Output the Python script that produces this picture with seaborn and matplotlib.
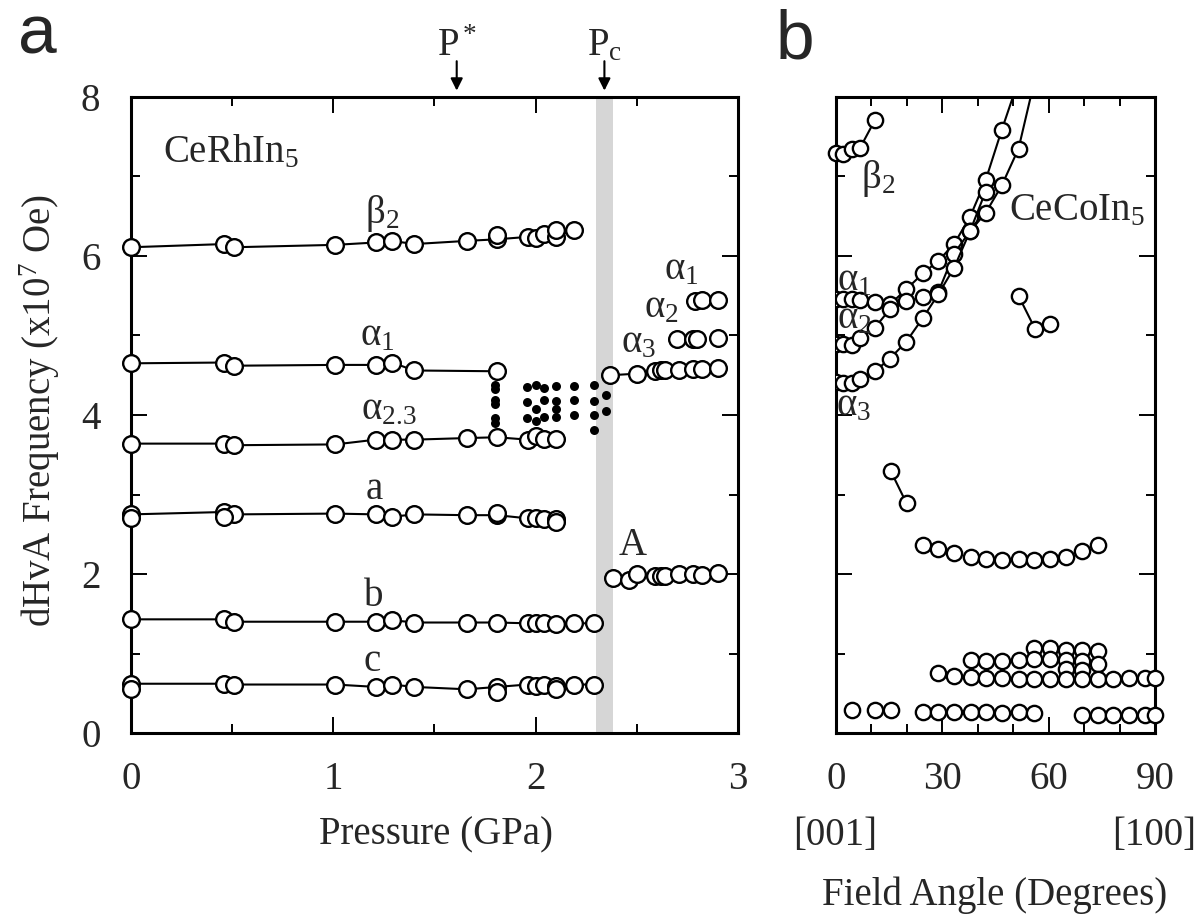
import numpy as np
import pandas as pd
import seaborn as sns
import matplotlib.pyplot as plt
from matplotlib.ticker import MultipleLocator, NullFormatter

# ---- panel a : CeRhIn5, frequency vs pressure ----
p_beta2 = [0, 0.46, 0.51, 1.01, 1.21, 1.29, 1.40, 1.66, 1.81, 1.96, 2.00, 2.04, 2.10, 2.19]
f_beta2 = [6.11, 6.15, 6.11, 6.14, 6.17, 6.19, 6.15, 6.19, 6.21, 6.24, 6.23, 6.28, 6.24, 6.33]
p_beta2_x = [1.81, 2.10]
f_beta2_x = [6.27, 6.33]

p_alpha1 = [0, 0.46, 0.51, 1.01, 1.21, 1.29, 1.40, 1.81]
f_alpha1 = [4.65, 4.66, 4.62, 4.63, 4.63, 4.66, 4.56, 4.55]

p_alpha23 = [0, 0.46, 0.51, 1.01, 1.21, 1.29, 1.40, 1.66, 1.81, 1.96, 2.00, 2.04, 2.10]
f_alpha23 = [3.64, 3.64, 3.62, 3.63, 3.69, 3.69, 3.69, 3.71, 3.72, 3.69, 3.73, 3.70, 3.70]

p_a = [0, 0.46, 0.51, 1.01, 1.21, 1.29, 1.40, 1.66, 1.81, 1.96, 2.00, 2.04, 2.10]
f_a = [2.75, 2.78, 2.75, 2.76, 2.75, 2.72, 2.75, 2.74, 2.74, 2.70, 2.71, 2.69, 2.69]
p_a_x = [0, 0.46, 1.81, 2.10]
f_a_x = [2.70, 2.72, 2.77, 2.66]

p_bc = [0, 0.46, 0.51, 1.01, 1.21, 1.29, 1.40, 1.66, 1.81, 1.96, 2.00, 2.04, 2.10, 2.19, 2.29]
f_b = [1.43, 1.43, 1.40, 1.40, 1.40, 1.42, 1.39, 1.39, 1.39, 1.38, 1.38, 1.38, 1.37, 1.38, 1.38]
f_c = [0.62, 0.62, 0.61, 0.61, 0.58, 0.61, 0.58, 0.55, 0.58, 0.61, 0.59, 0.60, 0.59, 0.61, 0.61]
p_c_x = [0, 1.81, 2.10]
f_c_x = [0.56, 0.52, 0.55]

# high pressure side
p_hi_a3 = [2.37, 2.50, 2.59, 2.62, 2.64, 2.71, 2.78, 2.82, 2.90]
f_hi_a3 = [4.50, 4.52, 4.55, 4.56, 4.56, 4.57, 4.58, 4.58, 4.59]
p_hi_a2 = [2.70, 2.78, 2.80, 2.90]
f_hi_a2 = [4.96, 4.96, 4.96, 4.97]
p_hi_a1 = [2.79, 2.82, 2.90]
f_hi_a1 = [5.44, 5.45, 5.45]
p_hi_A = [2.38, 2.46, 2.50, 2.59, 2.62, 2.64, 2.71, 2.78, 2.82, 2.90]
f_hi_A = [1.95, 1.93, 2.00, 1.97, 1.98, 1.98, 2.00, 2.00, 1.99, 2.01]

# small filled dots near the transition
p_dots = [1.80, 1.80, 1.80, 1.80, 1.80, 1.80, 1.955, 1.955, 1.955, 2.00, 2.00, 2.00,
          2.04, 2.04, 2.04, 2.10, 2.10, 2.10, 2.10, 2.19, 2.19, 2.19,
          2.29, 2.29, 2.29, 2.29, 2.35, 2.35]
f_dots = [4.38, 4.33, 4.19, 4.14, 3.96, 3.90, 4.35, 4.16, 3.96, 4.38, 4.08, 3.93,
          4.34, 4.19, 3.98, 4.36, 4.18, 4.08, 3.98, 4.36, 4.19, 4.00,
          4.38, 4.18, 4.00, 3.81, 4.25, 4.05]

# ---- panel b : CeCoIn5, frequency vs field angle ----
ang_beta2 = [0, 2.1, 4.4, 6.8, 11.0]
fb_beta2 = [7.30, 7.28, 7.35, 7.36, 7.71]
ang_a1 = [0, 2.1, 4.4, 6.8, 11.0, 15.2, 19.8, 24.5, 28.9, 33.3, 37.8, 42.2, 46.8, 52.2]
fb_a1 = [5.46, 5.46, 5.46, 5.45, 5.42, 5.39, 5.58, 5.78, 5.94, 6.15, 6.49, 6.95, 7.59, 8.30]
ang_a2 = [0, 2.1, 4.4, 6.8, 11.0, 15.2, 19.8, 24.5, 28.9, 33.3, 37.8, 42.2]
fb_a2 = [4.89, 4.89, 4.88, 4.97, 5.10, 5.33, 5.43, 5.48, 5.55, 6.03, 6.31, 6.81]
ang_a3 = [0, 2.1, 4.4, 6.8, 11.0, 15.2, 19.8, 24.5, 28.9, 33.3, 37.8, 42.2, 46.8, 51.5, 56.5]
fb_a3 = [4.41, 4.40, 4.40, 4.45, 4.55, 4.71, 4.92, 5.22, 5.52, 5.85, 6.31, 6.54, 6.89, 7.35, 8.30]
ang_seg1 = [51.5, 56.2, 60.4]
fb_seg1 = [5.50, 5.08, 5.15]
ang_seg2 = [15.4, 19.9]
fb_seg2 = [3.30, 2.89]
ang_r22 = [24.5, 28.9, 33.3, 38.0, 42.2, 46.8, 51.5, 56.0, 60.4, 64.8, 69.3, 73.8]
fb_r22 = [2.36, 2.32, 2.26, 2.21, 2.19, 2.17, 2.19, 2.17, 2.19, 2.22, 2.29, 2.36]
ang_r105 = [56.0, 60.4, 64.8, 69.3, 73.8]
fb_r105 = [1.07, 1.07, 1.05, 1.04, 1.03]
ang_r09 = [38.0, 42.2, 46.8, 51.5, 56.0, 60.4, 64.8, 69.3, 73.8]
fb_r09 = [0.92, 0.90, 0.91, 0.92, 0.93, 0.93, 0.92, 0.90, 0.87]
ang_r08 = [64.8, 69.3]
fb_r08 = [0.81, 0.79]
ang_r07 = [28.9, 33.3, 38.0, 42.2, 46.8, 51.5, 56.0, 60.4, 64.8, 69.3, 73.8, 78.1, 82.6, 87.1, 89.9]
fb_r07 = [0.75, 0.72, 0.70, 0.69, 0.69, 0.68, 0.68, 0.68, 0.68, 0.68, 0.68, 0.68, 0.69, 0.69, 0.69]
ang_r03 = [4.4, 11.0, 15.4, 24.5, 28.9, 33.3, 38.0, 42.2, 46.8, 51.5, 56.0,
           69.3, 73.8, 78.1, 82.6, 87.1, 89.9]
fb_r03 = [0.29, 0.29, 0.29, 0.26, 0.26, 0.26, 0.26, 0.26, 0.25, 0.26, 0.25,
          0.23, 0.23, 0.23, 0.23, 0.23, 0.23]

sns.set_theme(style="ticks")
plt.rcParams['font.family'] = ['Liberation Serif', 'DejaVu Serif']
plt.rcParams['mathtext.fontset'] = 'custom'
plt.rcParams['mathtext.rm'] = 'Liberation Serif'
plt.rcParams['mathtext.it'] = 'Liberation Serif:italic'
plt.rcParams['mathtext.bf'] = 'Liberation Serif:bold'

FS = 28


def joined(ax, x, y, ms=12, clip=False):
    sns.lineplot(x=x, y=y, ax=ax, sort=False, estimator=None, color='black',
                 linewidth=1.5, marker='o', markersize=ms, markerfacecolor='white',
                 markeredgecolor='black', markeredgewidth=1.7, clip_on=clip, zorder=3)


def loose(ax, x, y, ms=12):
    sns.scatterplot(x=x, y=y, ax=ax, s=ms ** 2, color='white', edgecolor='black',
                    linewidth=1.7, clip_on=False, zorder=3)


def style_axes(ax):
    for sp in ax.spines.values():
        sp.set_linewidth(2.2)
        sp.set_color('black')
    ax.tick_params(which='both', direction='in', top=True, right=True,
                   width=1.4, color='black', labelsize=FS)
    ax.tick_params(which='major', length=11.5)
    ax.tick_params(which='minor', length=6.5)
    ax.set_xlabel('')
    ax.set_ylabel('')


fig = plt.figure(figsize=(11.97, 9.14), dpi=100)
axa = fig.add_axes([0.1094, 0.198, 0.5071, 0.6959])
axb = fig.add_axes([0.6984, 0.198, 0.2665, 0.6959])

# panel a
axa.axvspan(2.30, 2.38, color='#d6d6d6', lw=0, zorder=0)
joined(axa, p_beta2, f_beta2)
loose(axa, p_beta2_x, f_beta2_x)
joined(axa, p_alpha1, f_alpha1)
joined(axa, p_alpha23, f_alpha23)
joined(axa, p_a, f_a)
loose(axa, p_a_x, f_a_x)
joined(axa, p_bc, f_b)
joined(axa, p_bc, f_c)
loose(axa, p_c_x, f_c_x)
joined(axa, p_hi_a3, f_hi_a3)
loose(axa, p_hi_a2, f_hi_a2)
loose(axa, p_hi_a1, f_hi_a1)
joined(axa, p_hi_A, f_hi_A)
sns.scatterplot(x=p_dots, y=f_dots, ax=axa, s=42, color='black', linewidth=0, zorder=4)

axa.set_xlim(0, 3)
axa.set_ylim(0, 8)
axa.xaxis.set_major_locator(MultipleLocator(1))
axa.xaxis.set_minor_locator(MultipleLocator(0.5))
axa.yaxis.set_major_locator(MultipleLocator(2))
axa.yaxis.set_minor_locator(MultipleLocator(1))
style_axes(axa)
axa.tick_params(axis='x', pad=20)
axa.tick_params(axis='y', pad=22)

axa.text(0.16, 7.30, 'CeRhIn$_5$', fontsize=FS, ha='left', va='center')
axa.text(1.24, 6.54, r'$\mathrm{β}_2$', fontsize=FS, ha='center', va='center')
axa.text(1.22, 5.00, r'$\mathrm{α}_1$', fontsize=FS, ha='center', va='center')
axa.text(1.275, 4.06, r'$\mathrm{α}_{2.3}$', fontsize=FS, ha='center', va='center')
axa.text(1.20, 3.06, 'a', fontsize=FS, ha='center', va='center')
axa.text(1.20, 1.72, 'b', fontsize=FS, ha='center', va='center')
axa.text(1.19, 0.90, 'c', fontsize=FS, ha='center', va='center')
axa.text(2.48, 2.36, 'A', fontsize=FS, ha='center', va='center')
axa.text(2.72, 5.82, r'$\mathrm{α}_1$', fontsize=FS, ha='center', va='center')
axa.text(2.62, 5.35, r'$\mathrm{α}_2$', fontsize=FS, ha='center', va='center')
axa.text(2.51, 4.91, r'$\mathrm{α}_3$', fontsize=FS, ha='center', va='center')

for xp, lab in [(1.61, r'P$^*$'), (2.34, r'P$_\mathrm{c}$')]:
    axa.annotate('', xy=(xp, 8.08), xytext=(xp, 8.45), annotation_clip=False,
                 arrowprops=dict(arrowstyle='-|>', color='black', lw=1.5,
                                 mutation_scale=18, shrinkA=0, shrinkB=0))
    axa.text(xp, 8.64, lab, fontsize=FS, ha='center', va='center', clip_on=False)

# panel b
joined(axb, ang_beta2, fb_beta2, ms=11)
joined(axb, ang_a1, fb_a1, ms=11, clip=True)
joined(axb, ang_a2, fb_a2, ms=11, clip=True)
joined(axb, ang_a3, fb_a3, ms=11, clip=True)
joined(axb, ang_seg1, fb_seg1, ms=11)
joined(axb, ang_seg2, fb_seg2, ms=11)
for xs, ys in [(ang_r22, fb_r22), (ang_r105, fb_r105), (ang_r09, fb_r09),
               (ang_r08, fb_r08), (ang_r07, fb_r07), (ang_r03, fb_r03)]:
    loose(axb, xs, ys, ms=11)

axb.set_xlim(0, 90)
axb.set_ylim(0, 8)
axb.xaxis.set_major_locator(MultipleLocator(30))
axb.xaxis.set_minor_locator(MultipleLocator(10))
axb.yaxis.set_major_locator(MultipleLocator(2))
axb.yaxis.set_minor_locator(MultipleLocator(1))
axb.yaxis.set_major_formatter(NullFormatter())
style_axes(axb)
axb.tick_params(axis='x', pad=20)

axb.text(11.9, 6.98, r'$\mathrm{β}_2$', fontsize=FS, ha='center', va='center')
axb.text(68.0, 6.57, 'CeCoIn$_5$', fontsize=FS, ha='center', va='center')
axb.text(5.1, 5.69, r'$\mathrm{α}_1$', fontsize=FS, ha='center', va='center')
axb.text(5.1, 5.21, r'$\mathrm{α}_2$', fontsize=FS, ha='center', va='center')
axb.text(5.1, 4.11, r'$\mathrm{α}_3$', fontsize=FS, ha='center', va='center')

# figure-level labels
fig.text(0.031, 0.961, 'a', fontsize=50, family='Liberation Sans', ha='center', va='center')
fig.text(0.664, 0.956, 'b', fontsize=50, family='Liberation Sans', ha='center', va='center')
fig.text(0.364, 0.0864, 'Pressure (GPa)', fontsize=FS, ha='center', va='center')
fig.text(0.033, 0.551, 'dHvA Frequency (x10$^7$ Oe)', fontsize=FS, rotation=90,
         ha='center', va='center')
fig.text(0.698, 0.0864, '[001]', fontsize=FS, ha='center', va='center')
fig.text(0.964, 0.0864, '[100]', fontsize=FS, ha='center', va='center')
fig.text(0.831, 0.0205, 'Field Angle (Degrees)', fontsize=FS, ha='center', va='center')

fig.savefig('out.png', dpi=100, facecolor='white')
